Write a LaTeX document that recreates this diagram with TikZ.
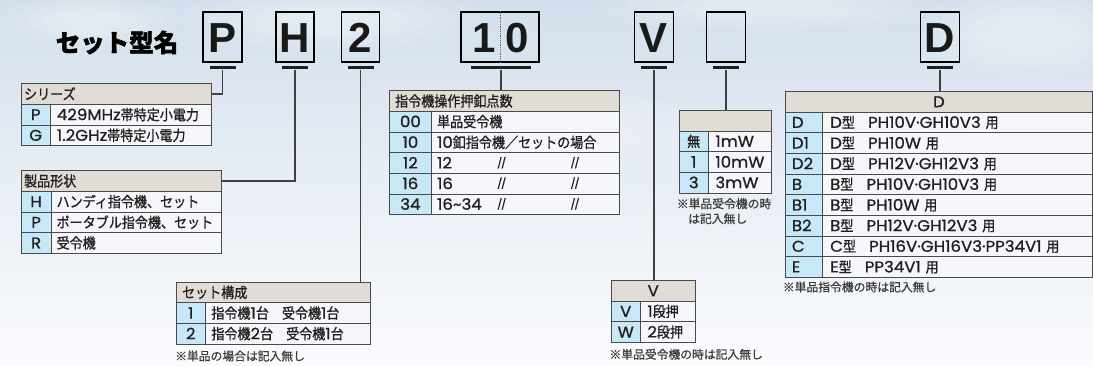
\documentclass[tikz,border=0pt]{standalone}
\usepackage{fontspec}
\setmainfont{Noto Sans CJK JP}[FakeStretch=0.9,FakeBold=1]
\newfontfamily\jpn{Noto Sans CJK JP}[FakeBold=0.8]
\newfontfamily\jpt{Noto Sans CJK JP}[FakeBold=1.6]
\newfontfamily\lat{Poppins}[Scale=1.08,FakeStretch=1.06,FakeBold=0.9]
\newfontfamily\bigf{Liberation Sans}
\definecolor{bcol}{HTML}{4A4A4A}
\definecolor{hcol}{HTML}{E2DCD7}
\definecolor{kcol}{HTML}{C9E8F7}
\definecolor{vcol}{HTML}{F5F7FA}
\definecolor{tcol}{HTML}{231F20}
\definecolor{ncol}{HTML}{3C3C3C}
\definecolor{bgtop}{HTML}{D3DFEC}
\definecolor{bgmid}{HTML}{E8EEF5}
\definecolor{bgbot}{HTML}{FAFBFD}
\newcommand\tbfont{\fontsize{14.5}{17}\selectfont}
\newcommand\ntfont{\jpn\fontsize{11.8}{15}\selectfont}
\newcommand\bgfont{\bigf\bfseries\fontsize{42}{42}\selectfont}
\newcommand\ttfnt{\jpt\bfseries\fontsize{24.5}{25}\selectfont}
\newcommand\dit{{\lat\fontsize{9.5}{10}\selectfont/\kern-1.2pt/}}
\begin{document}
\begin{tikzpicture}[x=1pt,y=-1pt,
  cell/.style={draw=bcol, line width=0.8pt, inner sep=0pt, minimum height=20.65pt,
    text height=11.5pt, text depth=0.5pt, anchor=north west, text=tcol, font=\tbfont},
  hdr/.style={cell, fill=hcol},
  keyc/.style={cell, fill=kcol},
  valc/.style={cell, fill=vcol},
  note/.style={inner sep=0pt, text=ncol, font=\ntfont},
  lbox/.style={draw=black, line width=1.6pt, minimum height=50pt, inner sep=0pt},
  bigl/.style={inner sep=0pt, font=\bgfont, text=black!90},
  bar/.style={fill=black!88, minimum height=3.3pt, inner sep=0pt},
  ditto/.style={inner sep=0pt, text=tcol},
  stem/.style={draw=black!75, line width=1.1pt}]
\useasboundingbox (0,0) rectangle (1093,366);
% background
\fill[top color=bgtop, bottom color=bgbot, middle color=bgmid] (0,0) rectangle (1093,366);
\foreach \cx/\cy/\rx/\ry in {330/18/150/30, 770/6/170/26, 1030/30/110/45, 560/130/140/40, 90/20/90/25, 900/190/120/35}{
  \foreach \k in {0,...,4}{
    \fill[white, opacity=0.09] (\cx,\cy) ellipse [x radius={\rx*(1-0.16*\k)*1pt}, y radius={\ry*(1-0.16*\k)*1pt}];
  }
}
% title
\node[inner sep=0pt, font=\ttfnt, text=black] (title) at (117,42.5) {セット型名};
% letter boxes
\node[lbox, minimum width=39pt] (bxP) at (222.5,37) {};
\node[bigl] (lP) at (222.5,38) {P};
\node[lbox, minimum width=38pt] (bxH) at (295,37) {};
\node[bigl] (lH) at (295,38) {H};
\node[lbox, minimum width=38pt] (bx2) at (360.5,37) {};
\node[bigl] (l2) at (360.5,38) {2};
\node[lbox, minimum width=78pt] (bx10) at (500,37) {};
\draw[black!60, densely dotted, line width=0.8pt] (bx10.north) -- (bx10.south);
\node[bigl] (l1) at (484,38) {1};
\node[bigl] (l0) at (517,38) {0};
\node[lbox, minimum width=39pt] (bxV) at (654,37) {};
\node[bigl] (lV) at (654,38) {V};
\node[lbox, minimum width=39pt] (bxE) at (726,37) {};
\node[lbox, minimum width=39pt] (bxD) at (940,37) {};
\node[bigl] (lD) at (940,38) {D};
% bars
\node[bar, minimum width=26pt] (brP) at (222.5,67.7) {};
\node[bar, minimum width=26pt] (brH) at (295,67.7) {};
\node[bar, minimum width=26pt] (br2) at (360.5,67.7) {};
\node[bar, minimum width=60pt] (br10) at (501,67.7) {};
\node[bar, minimum width=26pt] (brV) at (654,67.7) {};
\node[bar, minimum width=26pt] (brE) at (726,67.7) {};
\node[bar, minimum width=26pt] (brD) at (940,67.7) {};

% ---- Table A: series
\node[hdr, text width=184pt, inner xsep=3pt, align=left] (A-h) at (20.7,83.3) {シリーズ};
\node[keyc, minimum width=29.3pt] (A-k1) at (20.7,103.95) {\lat P};
\node[valc, text width=147.7pt, inner xsep=6.5pt, align=left] (A-v1) at (50,103.95) {{\lat 429MHz}帯特定小電力};
\node[keyc, minimum width=29.3pt] (A-k2) at (20.7,124.6) {\lat G};
\node[valc, text width=147.7pt, inner xsep=6.5pt, align=left] (A-v2) at (50,124.6) {{\lat 1.2GHz}帯特定小電力};

% ---- Table B: product shape
\node[hdr, text width=194.3pt, inner xsep=3pt, align=left] (B-h) at (20.7,170.3) {製品形状};
\node[keyc, minimum width=30pt] (B-k1) at (20.7,190.95) {\lat H};
\node[valc, text width=159.3pt, inner xsep=5.5pt, align=left] (B-v1) at (50.7,190.95) {\mbox{ハンディ指令機、セット}};
\node[keyc, minimum width=30pt] (B-k2) at (20.7,211.6) {\lat P};
\node[valc, text width=159.3pt, inner xsep=5.5pt, align=left] (B-v2) at (50.7,211.6) {\mbox{ポータブル指令機、セット}};
\node[keyc, minimum width=30pt] (B-k3) at (20.7,232.25) {\lat R};
\node[valc, text width=159.3pt, inner xsep=5.5pt, align=left] (B-v3) at (50.7,232.25) {受令機};

% ---- Table C: buttons
\node[hdr, text width=218.7pt, inner xsep=5.5pt, align=left] (C-h) at (389.3,90.3) {指令機操作押釦点数};
\node[keyc, minimum width=41.4pt] (C-k1) at (389.3,110.95) {\lat 00};
\node[valc, text width=176.3pt, inner xsep=6pt, align=left] (C-v1) at (430.7,110.95) {単品受令機};
\node[keyc, minimum width=41.4pt] (C-k2) at (389.3,131.6) {\lat 10};
\node[valc, text width=176.3pt, inner xsep=6pt, align=left] (C-v2) at (430.7,131.6) {\mbox{{\lat 10}釦指令機／セットの場合}};
\node[keyc, minimum width=41.4pt] (C-k3) at (389.3,152.25) {\lat 12};
\node[valc, text width=176.3pt, inner xsep=6pt, align=left] (C-v3) at (430.7,152.25) {\lat 12};
\node[keyc, minimum width=41.4pt] (C-k4) at (389.3,172.9) {\lat 16};
\node[valc, text width=176.3pt, inner xsep=6pt, align=left] (C-v4) at (430.7,172.9) {\lat 16};
\node[keyc, minimum width=41.4pt] (C-k5) at (389.3,193.55) {\lat 34};
\node[valc, text width=176.3pt, inner xsep=6pt, align=left] (C-v5) at (430.7,193.55) {\lat 16\textasciitilde34};
\node[ditto] (C-d3a) at (501.7,162.6) {\dit};
\node[ditto] (C-d3b) at (575,162.6) {\dit};
\node[ditto] (C-d4a) at (501.7,183.2) {\dit};
\node[ditto] (C-d4b) at (575,183.2) {\dit};
\node[ditto] (C-d5a) at (501.7,203.9) {\dit};
\node[ditto] (C-d5b) at (575,203.9) {\dit};

% ---- Table Dm: output power
\node[hdr, minimum width=92pt] (Dm-h) at (678.7,110) {};
\node[keyc, minimum width=29.3pt] (Dm-k1) at (678.7,130.65) {無};
\node[valc, text width=48.7pt, inner xsep=7pt, align=left] (Dm-v1) at (708,130.65) {\lat 1mW};
\node[keyc, minimum width=29.3pt] (Dm-k2) at (678.7,151.3) {\lat 1};
\node[valc, text width=48.7pt, inner xsep=7pt, align=left] (Dm-v2) at (708,151.3) {\mbox{\lat 10mW}};
\node[keyc, minimum width=29.3pt] (Dm-k3) at (678.7,171.95) {\lat 3};
\node[valc, text width=48.7pt, inner xsep=7pt, align=left] (Dm-v3) at (708,171.95) {\lat 3mW};
\node[note, anchor=north west, align=left] (Dm-n) at (676.7,198) {※単品受令機の時\\\hspace*{11.3pt}は記入無し};

% ---- Table E: D types
\node[hdr, minimum width=307pt] (E-h) at (785,91) {\lat D};
\foreach \i/\k/\t/\v in {
  1/D/D/PH10V·GH10V3,
  2/D1/D/PH10W,
  3/D2/D/PH12V·GH12V3,
  4/B/B/PH10V·GH10V3,
  5/B1/B/PH10W,
  6/B2/B/PH12V·GH12V3,
  7/C/C/PH16V·GH16V3·PP34V1,
  8/E/E/PP34V1}{
  \node[keyc, text width=24.3pt, inner xsep=6.5pt, align=left] (E-k\i) at (785,{91+20.65*\i}) {\lat \k};
  \node[valc, text width=254.7pt, inner xsep=7.5pt, align=left] (E-v\i) at (822.3,{91+20.65*\i}) {\mbox{{\lat \t}型　{\lat \v\ }用}};
}
\node[note, anchor=west] (E-n) at (782.7,287) {※単品指令機の時は記入無し};

% ---- Table F: set composition
\node[hdr, text width=182.3pt, inner xsep=6pt, align=left] (F-h) at (175.7,281.7) {セット構成};
\node[keyc, minimum width=29.3pt] (F-k1) at (175.7,302.35) {\lat 1};
\node[valc, text width=153pt, inner xsep=6pt, align=left] (F-v1) at (205,302.35) {\mbox{指令機{\lat 1}台　受令機{\lat 1}台}};
\node[keyc, minimum width=29.3pt] (F-k2) at (175.7,323) {\lat 2};
\node[valc, text width=153pt, inner xsep=6pt, align=left] (F-v2) at (205,323) {\mbox{指令機{\lat 2}台　受令機{\lat 1}台}};
\node[note, anchor=west] (F-n) at (175,356) {※単品の場合は記入無し};

% ---- Table G: V
\node[hdr, minimum width=84.3pt] (G-h) at (610.7,280) {\lat V};
\node[keyc, minimum width=29.3pt] (G-k1) at (610.7,300.65) {\lat V};
\node[valc, text width=41pt, inner xsep=7pt, align=left] (G-v1) at (640,300.65) {\mbox{{\lat 1}段押}};
\node[keyc, minimum width=29.3pt] (G-k2) at (610.7,321.3) {\lat W};
\node[valc, text width=41pt, inner xsep=7pt, align=left] (G-v2) at (640,321.3) {\mbox{{\lat 2}段押}};
\node[note, anchor=west] (G-n) at (609.3,354.3) {※単品受令機の時は記入無し};

% ---- connectors
\draw[stem] (brP.south) |- (A-h.east);
\draw[stem] (brH.south) |- (B-h.east);
\draw[stem] (br2.south) -- (br2.south |- F-h.north);
\draw[stem] (br10.south) -- (br10.south |- C-h.north);
\draw[stem] (brV.south) -- (brV.south |- G-h.north);
\draw[stem] (brE.south) -- (brE.south |- Dm-h.north);
\draw[stem] (brD.south) -- (brD.south |- E-h.north);
\end{tikzpicture}
\end{document}
